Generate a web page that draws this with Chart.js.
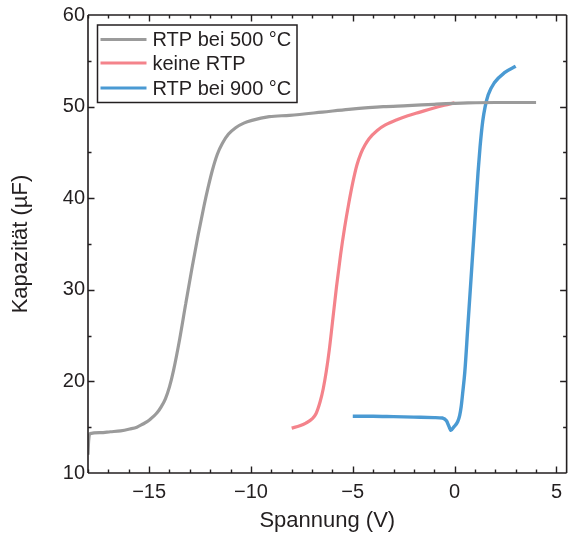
<!DOCTYPE html>
<html>
<head>
<meta charset="utf-8">
<script src="https://cdn.jsdelivr.net/npm/chart.js@4/dist/chart.umd.min.js"></script>
<style>
  html, body { margin: 0; padding: 0; background: #fff; overflow: hidden; }
  #wrap { width: 569px; height: 534px; position: relative; }
</style>
</head>
<body>
<div id="wrap"><canvas id="cvChart"></canvas></div>
<script>
// Spannung (V) / Kapazität (µF)
const grayV = [-18.0, -17.97, -17.9, -17.4, -16.9, -16.4, -15.95, -15.6, -15.3, -15.0, -14.8, -14.6, -14.4, -14.2, -14.0, -13.8, -13.5, -13.2, -12.9, -12.6, -12.3, -12.1, -11.9, -11.65, -11.4, -11.1, -10.75, -10.35, -9.95, -9.1, -8.1, -6.5, -5.2, -3.5, -2.3, -1.0, 0.65, 2.0, 4.0];
const grayC = [12.0, 13.5, 14.3, 14.4, 14.5, 14.6, 14.8, 15.0, 15.35, 15.75, 16.15, 16.6, 17.25, 18.1, 19.4, 21.2, 24.6, 28.5, 32.3, 35.9, 39.2, 41.2, 43.0, 44.8, 46.0, 47.0, 47.7, 48.2, 48.5, 48.9, 49.05, 49.4, 49.7, 50.0, 50.1, 50.25, 50.4, 50.45, 50.45];

const redV = [-8.0, -7.6, -7.3, -7.0, -6.8, -6.6, -6.45, -6.3, -6.15, -6.0, -5.8, -5.6, -5.4, -5.2, -5.0, -4.8, -4.6, -4.4, -4.2, -3.8, -3.4, -2.8, -2.3, -1.7, -1.1, -0.5, 0.0];
const redC = [14.9, 15.15, 15.45, 15.9, 16.5, 17.8, 19.2, 21.1, 23.5, 26.4, 30.3, 33.8, 36.8, 39.4, 41.7, 43.6, 44.9, 45.8, 46.5, 47.4, 48.0, 48.6, 49.0, 49.4, 49.8, 50.15, 50.4];

const blueV = [-5.0, -4.0, -3.0, -2.0, -1.0, -0.6, -0.4, -0.28, -0.18, -0.05, 0.15, 0.25, 0.32, 0.4, 0.5, 0.65, 0.8, 0.95, 1.06, 1.15, 1.25, 1.38, 1.5, 1.65, 1.95, 2.45, 3.0];
const blueC = [16.2, 16.2, 16.15, 16.1, 16.05, 16.0, 15.7, 15.1, 14.65, 15.0, 15.6, 16.3, 17.2, 18.8, 21.0, 26.0, 31.0, 36.0, 39.8, 42.8, 45.6, 48.4, 50.0, 51.3, 52.6, 53.7, 54.4];

const seriesNames = ['RTP bei 500 °C', 'keine RTP', 'RTP bei 900 °C'];
const xMajor = [-15, -10, -5, 0, 5];
const yMajor = [10, 20, 30, 40, 50, 60];

const FONT = '"Liberation Sans", Arial, Helvetica, sans-serif';
const INK = '#231f20';

function toPoints(xs, ys) {
    return xs.map((x, i) => ({ x: x, y: ys[i] }));
}

// frame with inward ticks on all four sides (like the original plot)
const framePlugin = {
    id: 'frame',
    afterDraw(chart) {
        const ctx = chart.ctx;
        const a = chart.chartArea;
        const xs = chart.scales.x;
        const ys = chart.scales.y;
        ctx.save();
        ctx.strokeStyle = INK;
        ctx.lineWidth = 1.6;
        ctx.beginPath();
        ctx.moveTo(a.left, a.top); ctx.lineTo(a.left, a.bottom);
        ctx.moveTo(a.left, a.bottom); ctx.lineTo(a.right, a.bottom);
        ctx.moveTo(a.left, a.top); ctx.lineTo(a.right, a.top);
        ctx.moveTo(a.right, a.top); ctx.lineTo(a.right, a.bottom);
        ctx.stroke();

        ctx.lineWidth = 1.4;
        ctx.beginPath();
        for (let v = -18; v <= 5; v++) {
            const px = Math.round(xs.getPixelForValue(v)) + 0.5;
            const len = (v % 5 === 0) ? 6.5 : 3.5;
            ctx.moveTo(px, a.bottom); ctx.lineTo(px, a.bottom - len);
            ctx.moveTo(px, a.top); ctx.lineTo(px, a.top + len);
        }
        for (let v = 15; v < 60; v += 5) {
            const py = Math.round(ys.getPixelForValue(v)) + 0.5;
            const len = (v % 10 === 0) ? 6.5 : 3.5;
            ctx.moveTo(a.left, py); ctx.lineTo(a.left + len, py);
            ctx.moveTo(a.right, py); ctx.lineTo(a.right - len, py);
        }
        ctx.stroke();
        ctx.restore();
    }
};

// boxed legend in the upper left corner
const legendBoxPlugin = {
    id: 'legendBox',
    afterDraw(chart) {
        const ctx = chart.ctx;
        const a = chart.chartArea;
        const left = a.left + 9.5, top = a.top + 10;
        const rowY = [14.5, 38, 63];
        ctx.save();
        ctx.fillStyle = '#fff';
        ctx.fillRect(left, top, 199.5, 77.5);
        ctx.strokeStyle = INK;
        ctx.lineWidth = 1.5;
        ctx.strokeRect(left, top, 199.5, 77.5);
        ctx.font = '20px ' + FONT;
        ctx.textBaseline = 'middle';
        ctx.fillStyle = INK;
        chart.data.datasets.forEach((ds, i) => {
            const y = top + rowY[i];
            ctx.strokeStyle = ds.borderColor;
            ctx.lineWidth = 3;
            ctx.beginPath();
            ctx.moveTo(left + 3, y); ctx.lineTo(left + 49, y);
            ctx.stroke();
            ctx.fillText(ds.label, left + 55, y + 1);
        });
        ctx.restore();
    }
};

const ctx = document.getElementById('cvChart').getContext('2d');
new Chart(ctx, {
    type: 'scatter',
    data: {
        datasets: [
            { label: seriesNames[0], data: toPoints(grayV, grayC), borderColor: '#9b9b9b', borderWidth: 3.2 },
            { label: seriesNames[1], data: toPoints(redV, redC), borderColor: '#f4838b', borderWidth: 3.2 },
            { label: seriesNames[2], data: toPoints(blueV, blueC), borderColor: '#4a9ad3', borderWidth: 3.4 }
        ].map(ds => Object.assign(ds, { showLine: true, pointRadius: 0, cubicInterpolationMode: 'monotone', fill: false }))
    },
    options: {
        responsive: true,
        maintainAspectRatio: false,
        animation: false,
        layout: { padding: { top: 14, right: 0, bottom: 0, left: 0 } },
        plugins: {
            legend: { display: false },
            tooltip: { enabled: false }
        },
        scales: {
            x: {
                type: 'linear',
                min: -18,
                max: 5.5,
                afterBuildTicks: scale => { scale.ticks = xMajor.map(v => ({ value: v })); },
                afterFit: scale => { scale.height = 61; },
                grid: { display: false, drawTicks: false },
                border: { display: false },
                ticks: {
                    padding: 7,
                    color: INK,
                    font: { family: FONT, size: 20 },
                    callback: v => v < 0 ? '\u2212' + Math.abs(v) : String(v)
                },
                title: {
                    display: true,
                    text: 'Spannung (V)',
                    color: INK,
                    font: { family: FONT, size: 22 },
                    padding: { top: 0, bottom: 0 }
                }
            },
            y: {
                type: 'linear',
                min: 10,
                max: 60,
                afterBuildTicks: scale => { scale.ticks = yMajor.map(v => ({ value: v })); },
                afterFit: scale => { scale.width = 88; },
                grid: { display: false, drawTicks: false },
                border: { display: false },
                ticks: {
                    padding: 3,
                    color: INK,
                    font: { family: FONT, size: 20 }
                },
                title: {
                    display: true,
                    text: 'Kapazität (µF)',
                    color: INK,
                    font: { family: FONT, size: 22 },
                    padding: { top: 8, bottom: 0 }
                }
            }
        }
    },
    plugins: [framePlugin, legendBoxPlugin]
});
</script>
</body>
</html>
